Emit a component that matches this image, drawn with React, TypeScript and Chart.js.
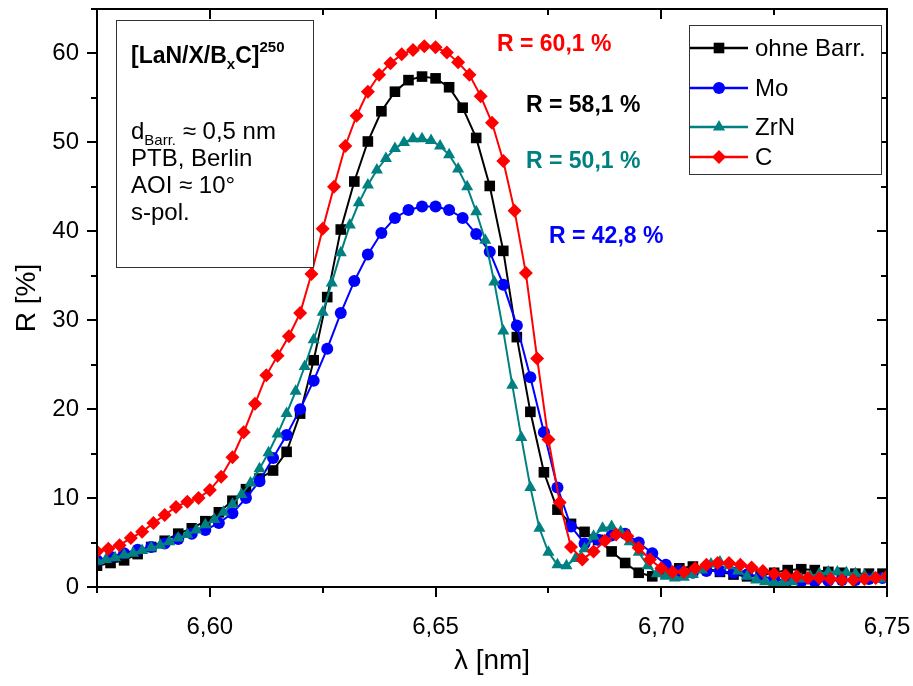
import React, { useEffect, useRef } from 'react';
import { Chart, registerables } from 'chart.js';

Chart.register(...registerables);

const FONT = "'Liberation Sans', Arial, Helvetica, sans-serif";

// wavelength grid (nm) for "ohne Barr." and "Mo"
const wavelengthA = [
  6.575, 6.578, 6.581, 6.584, 6.587, 6.590, 6.593, 6.596, 6.599, 6.602,
  6.605, 6.608, 6.611, 6.614, 6.617, 6.620, 6.623, 6.626, 6.629, 6.632,
  6.635, 6.638, 6.641, 6.644, 6.647, 6.650, 6.653, 6.656, 6.659, 6.662,
  6.665, 6.668, 6.671, 6.674, 6.677, 6.680, 6.683, 6.686, 6.689, 6.692,
  6.695, 6.698, 6.701, 6.704, 6.707, 6.710, 6.713, 6.716, 6.719, 6.722,
  6.725, 6.728, 6.731, 6.734, 6.737, 6.740, 6.743, 6.746, 6.749,
];
const ohneBarr = [
  2.4, 2.7, 3.0, 3.7, 4.5, 5.2, 6.0, 6.6, 7.4, 8.4,
  9.7, 11.0, 12.2, 13.1, 15.2, 19.5, 25.5, 32.6, 40.2, 45.6,
  50.1, 53.5, 55.7, 57.0, 57.4, 57.2, 56.2, 53.9, 50.5, 45.1,
  37.8, 28.1, 19.7, 12.9, 8.7, 7.1, 6.2, 5.3, 4.0, 2.7,
  1.6, 1.2, 1.5, 2.1, 2.3, 2.1, 1.7, 1.4, 1.2, 1.3,
  1.6, 1.9, 2.0, 1.9, 1.7, 1.6, 1.5, 1.5, 1.5,
];
const mo = [
  3.0, 3.4, 3.8, 4.2, 4.5, 4.9, 5.4, 6.0, 6.4, 7.2,
  8.3, 10.0, 11.9, 14.5, 17.1, 20.0, 23.2, 26.8, 30.8, 34.4,
  37.4, 39.8, 41.5, 42.4, 42.8, 42.8, 42.4, 41.5, 39.7, 37.7,
  34.0, 29.4, 23.6, 17.4, 11.2, 6.8, 4.9, 5.3, 5.8, 6.0,
  5.0, 3.8, 2.5, 1.8, 1.6, 1.8, 1.8, 1.6, 1.4, 1.2,
  0.9, 0.7, 0.6, 0.6, 0.7, 0.8, 0.8, 0.9, 1.0,
];

// wavelength grid (nm) for "ZrN"
const wavelengthZrN = [
  6.575, 6.577, 6.579, 6.581, 6.583, 6.585, 6.587, 6.589, 6.591, 6.593,
  6.595, 6.597, 6.599, 6.601, 6.603, 6.605, 6.607, 6.609, 6.611, 6.613,
  6.615, 6.617, 6.619, 6.621, 6.623, 6.625, 6.627, 6.629, 6.631, 6.633,
  6.635, 6.637, 6.639, 6.641, 6.643, 6.645, 6.647, 6.649, 6.651, 6.653,
  6.655, 6.657, 6.659, 6.661, 6.663, 6.665, 6.667, 6.669, 6.671, 6.673,
  6.675, 6.677, 6.679, 6.681, 6.683, 6.685, 6.687, 6.689, 6.691, 6.693,
  6.695, 6.697, 6.699, 6.701, 6.703, 6.705, 6.707, 6.709, 6.711, 6.713,
  6.715, 6.717, 6.719, 6.721, 6.723, 6.725, 6.727, 6.729, 6.731, 6.733,
  6.735, 6.737, 6.739, 6.741, 6.743, 6.745, 6.747, 6.749,
];
const zrn = [
  2.9, 3.1, 3.3, 3.6, 3.8, 4.1, 4.4, 4.7, 5.1, 5.5,
  5.9, 6.4, 7.0, 7.6, 8.4, 9.3, 10.4, 11.7, 13.3, 15.1,
  17.2, 19.5, 22.0, 24.8, 27.8, 30.9, 34.2, 37.6, 40.7, 43.2,
  45.2, 46.9, 48.2, 49.3, 50.0, 50.4, 50.4, 50.2, 49.6, 48.6,
  47.0, 45.0, 42.2, 39.0, 34.3, 28.8, 22.7, 16.8, 11.2, 6.6,
  3.9, 2.5, 2.4, 3.2, 4.3, 5.7, 6.6, 6.8, 6.2, 5.1,
  3.9, 2.4, 1.5, 1.2, 1.0, 1.1, 1.4, 1.9, 2.6, 2.8,
  2.4, 1.8, 1.2, 0.8, 0.6, 0.5, 0.5, 0.6, 0.9, 1.2,
  1.5, 1.7, 1.7, 1.6, 1.5, 1.3, 1.1, 0.9,
];

// wavelength grid (nm) for "C"
const wavelengthC = [
  6.575, 6.5775, 6.58, 6.5825, 6.585, 6.5875, 6.59, 6.5925, 6.595, 6.5975,
  6.6, 6.6025, 6.605, 6.6075, 6.61, 6.6125, 6.615, 6.6175, 6.62, 6.6225,
  6.625, 6.6275, 6.63, 6.6325, 6.635, 6.6375, 6.64, 6.6425, 6.645, 6.6475,
  6.65, 6.6525, 6.655, 6.6575, 6.66, 6.6625, 6.665, 6.6675, 6.67, 6.6725,
  6.675, 6.6775, 6.68, 6.6825, 6.685, 6.6875, 6.69, 6.6925, 6.695, 6.6975,
  6.7, 6.7025, 6.705, 6.7075, 6.71, 6.7125, 6.715, 6.7175, 6.72, 6.7225,
  6.725, 6.7275, 6.73, 6.7325, 6.735, 6.7375, 6.74, 6.7425, 6.745, 6.7475,
  6.75,
];
const carbon = [
  4.0, 4.3, 4.7, 5.5, 6.2, 7.2, 8.1, 9.0, 9.6, 10.0,
  10.9, 12.4, 14.6, 17.4, 20.6, 23.8, 26.0, 28.2, 30.8, 35.2,
  40.3, 45.0, 49.6, 53.0, 55.7, 57.6, 58.9, 59.9, 60.4, 60.8,
  60.7, 60.1, 59.0, 57.6, 55.2, 52.2, 47.9, 42.3, 35.3, 25.7,
  16.6, 9.5, 4.5, 3.1, 4.0, 5.2, 5.9, 5.7, 4.4, 3.1,
  2.1, 1.7, 1.7, 2.1, 2.5, 2.7, 2.7, 2.5, 2.2, 1.8,
  1.5, 1.3, 1.2, 1.0, 1.0, 0.9, 0.8, 0.8, 0.9, 1.0,
  1.2,
];

const xMajorTicks = [6.6, 6.65, 6.7, 6.75];
const xMinorTicks = [6.575, 6.625, 6.675, 6.725];
const yMajorTicks = [0, 10, 20, 30, 40, 50, 60];
const yMinorTicks = [5, 15, 25, 35, 45, 55, 65];

const seriesNames = ['ohne Barr.', 'Mo', 'ZrN', 'C'];
const seriesColors = ['#000000', '#0000ff', '#008080', '#ff0000'];
const seriesMarkers = ['rect', 'circle', 'triangle', 'rectRot'];
const seriesMarkerRadius = [7.5, 6, 7, 7];
const peakLabels = ['R = 60,1 %', 'R = 58,1 %', 'R = 50,1 %', 'R = 42,8 %'];
const peakLabelColors = ['#ff0000', '#000000', '#008080', '#0000ff'];

function drawMarker(ctx: CanvasRenderingContext2D, style: string, x: number, y: number, r: number) {
  ctx.beginPath();
  if (style === 'rect') {
    const s = Math.SQRT1_2 * r;
    ctx.rect(x - s, y - s, 2 * s, 2 * s);
  } else if (style === 'circle') {
    ctx.arc(x, y, r, 0, Math.PI * 2);
  } else if (style === 'triangle') {
    for (let k = 0; k < 3; k++) {
      const a = (k * 2 * Math.PI) / 3;
      const px = x + Math.sin(a) * r;
      const py = y - Math.cos(a) * r;
      if (k === 0) ctx.moveTo(px, py); else ctx.lineTo(px, py);
    }
    ctx.closePath();
  } else {
    ctx.moveTo(x - r, y);
    ctx.lineTo(x, y - r);
    ctx.lineTo(x + r, y);
    ctx.lineTo(x, y + r);
    ctx.closePath();
  }
  ctx.fill();
}

type Part = { t: string; size: number; bold?: boolean; dy?: number };
function drawRich(ctx: CanvasRenderingContext2D, x: number, y: number, parts: Part[], color: string) {
  let cx = x;
  ctx.fillStyle = color;
  ctx.textAlign = 'left';
  ctx.textBaseline = 'alphabetic';
  for (const p of parts) {
    ctx.font = `${p.bold ? 'bold ' : ''}${p.size}px ${FONT}`;
    ctx.fillText(p.t, cx, y + (p.dy || 0));
    cx += ctx.measureText(p.t).width;
  }
}

const overlayPlugin = {
  id: 'overlay',
  afterDraw(chart: any) {
    const { ctx, chartArea: a, scales } = chart;
    const xs = scales.x;
    const ys = scales.y;
    ctx.save();
    // frame
    ctx.strokeStyle = '#000';
    ctx.lineWidth = 2;
    ctx.strokeRect(a.left, a.top, a.right - a.left, a.bottom - a.top);
    // ticks
    ctx.beginPath();
    const tick = (v: number, len: number, horiz: boolean) => {
      if (horiz) {
        const px = Math.round(xs.getPixelForValue(v));
        ctx.moveTo(px, a.bottom);
        ctx.lineTo(px, a.bottom + len);
        ctx.moveTo(px, a.top);
        ctx.lineTo(px, a.top + len);
      } else {
        const py = Math.round(ys.getPixelForValue(v));
        ctx.moveTo(a.left, py);
        ctx.lineTo(a.left - len, py);
        ctx.moveTo(a.right, py);
        ctx.lineTo(a.right - len, py);
      }
    };
    xMajorTicks.forEach((v) => tick(v, 10, true));
    xMinorTicks.forEach((v) => tick(v, 6, true));
    yMajorTicks.forEach((v) => tick(v, 10, false));
    yMinorTicks.forEach((v) => tick(v, 6, false));
    ctx.stroke();

    // info box
    ctx.fillStyle = '#fff';
    ctx.fillRect(116, 20, 197, 247);
    ctx.strokeStyle = '#333';
    ctx.lineWidth = 1;
    ctx.strokeRect(116.5, 20.5, 197, 247);
    drawRich(ctx, 131, 63, [
      { t: '[LaN/X/B', size: 23, bold: true },
      { t: 'x', size: 15, bold: true, dy: 6 },
      { t: 'C]', size: 23, bold: true },
      { t: '250', size: 15, bold: true, dy: -11 },
    ], '#000');
    drawRich(ctx, 131, 139, [
      { t: 'd', size: 24 },
      { t: 'Barr.', size: 15, dy: 6 },
      { t: ' ≈ 0,5 nm', size: 24 },
    ], '#000');
    drawRich(ctx, 131, 166, [{ t: 'PTB, Berlin', size: 24 }], '#000');
    drawRich(ctx, 131, 193, [{ t: 'AOI ≈ 10°', size: 24 }], '#000');
    drawRich(ctx, 131, 220, [{ t: 's-pol.', size: 24 }], '#000');

    // legend
    ctx.fillStyle = '#fff';
    ctx.fillRect(689, 25, 192, 149);
    ctx.strokeStyle = '#333';
    ctx.lineWidth = 1;
    ctx.strokeRect(689.5, 25.5, 192, 149);
    const rows = [48, 88, 127, 157];
    seriesNames.forEach((name, i) => {
      const y = rows[i];
      ctx.strokeStyle = seriesColors[i];
      ctx.lineWidth = 2.5;
      ctx.beginPath();
      ctx.moveTo(690, y);
      ctx.lineTo(748, y);
      ctx.stroke();
      ctx.fillStyle = seriesColors[i];
      drawMarker(ctx, seriesMarkers[i], 719, y, seriesMarkerRadius[i]);
      ctx.fillStyle = '#000';
      ctx.font = `24px ${FONT}`;
      ctx.textAlign = 'left';
      ctx.textBaseline = 'middle';
      ctx.fillText(name, 755, y + 1);
    });

    // peak labels
    const labelPos = [[497, 45], [526, 106], [526, 162], [549, 237]];
    peakLabels.forEach((t, i) => {
      ctx.fillStyle = peakLabelColors[i];
      ctx.font = `bold 23px ${FONT}`;
      ctx.textAlign = 'left';
      ctx.textBaseline = 'middle';
      ctx.fillText(t, labelPos[i][0], labelPos[i][1]);
    });
    ctx.restore();
  },
};

export default function App() {
  const ref = useRef<HTMLCanvasElement>(null);
  useEffect(() => {
    if (!ref.current) return;
    const pts = (xs: number[], ys: number[]) => xs.map((x, i) => ({ x, y: ys[i] }));
    const seriesData = [
      pts(wavelengthA, ohneBarr),
      pts(wavelengthA, mo),
      pts(wavelengthZrN, zrn),
      pts(wavelengthC, carbon),
    ];
    const orders = [4, 3, 2, 1];
    const chart = new Chart(ref.current, {
      type: 'line',
      data: {
        datasets: seriesNames.map((name, i) => ({
          label: name,
          data: seriesData[i],
          borderColor: seriesColors[i],
          backgroundColor: seriesColors[i],
          pointBackgroundColor: seriesColors[i],
          pointBorderColor: seriesColors[i],
          pointStyle: seriesMarkers[i] as any,
          pointRadius: seriesMarkerRadius[i],
          pointBorderWidth: 0,
          borderWidth: 2,
          tension: 0,
          fill: false,
          order: orders[i],
        })),
      },
      options: {
        animation: false,
        responsive: false,
        devicePixelRatio: 1,
        layout: { padding: { top: 9, right: 26, left: 0, bottom: 0 } },
        plugins: { legend: { display: false }, tooltip: { enabled: false } },
        scales: {
          x: {
            type: 'linear',
            min: 6.575,
            max: 6.75,
            afterBuildTicks: (s: any) => { s.ticks = xMajorTicks.map((v) => ({ value: v })); },
            afterFit: (s: any) => {
              s.height = 99;
              s.paddingLeft = 0;
              s.paddingRight = 0;
              s.paddingTop = 0;
              s.paddingBottom = 0;
            },
            grid: { display: false, drawTicks: false },
            border: { display: false },
            ticks: {
              autoSkip: false,
              maxRotation: 0,
              padding: 26,
              color: '#000',
              font: { family: FONT, size: 24 },
              callback: (v: any) => Number(v).toFixed(2).replace('.', ','),
            },
            title: {
              display: true,
              text: 'λ [nm]',
              color: '#000',
              font: { family: FONT, size: 28, lineHeight: 1.2 },
              padding: { top: 0, bottom: 8 },
            },
          },
          y: {
            type: 'linear',
            min: 0,
            max: 65,
            afterBuildTicks: (s: any) => { s.ticks = yMajorTicks.map((v) => ({ value: v })); },
            afterFit: (s: any) => {
              s.width = 97;
              s.paddingLeft = 0;
              s.paddingRight = 0;
              s.paddingTop = 0;
              s.paddingBottom = 0;
            },
            grid: { display: false, drawTicks: false },
            border: { display: false },
            ticks: {
              padding: 18,
              color: '#000',
              font: { family: FONT, size: 24 },
              callback: (v: any) => String(v),
            },
            title: {
              display: true,
              text: 'R [%]',
              color: '#000',
              font: { family: FONT, size: 28, lineHeight: 1.2 },
              padding: { top: 10, bottom: 0 },
            },
          },
        },
      },
      plugins: [overlayPlugin],
    });
    return () => chart.destroy();
  }, []);
  return (
    <canvas
      ref={ref}
      width={913}
      height={686}
      style={{ position: 'absolute', left: 0, top: 0, display: 'block', width: 913, height: 686 }}
    />
  );
}
